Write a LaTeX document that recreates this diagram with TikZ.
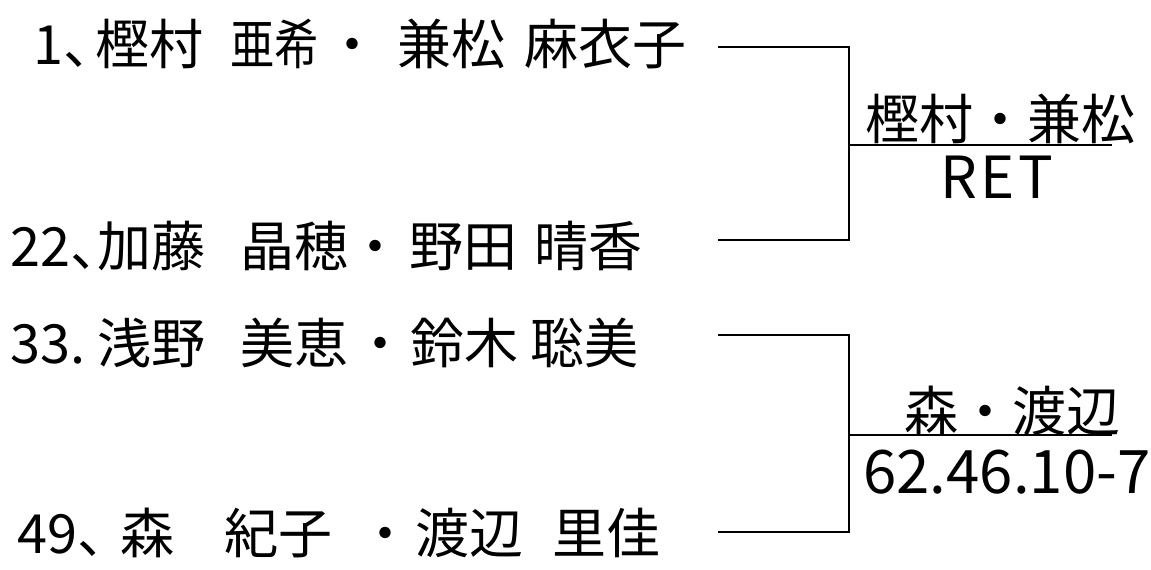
\documentclass[tikz,border=0pt]{standalone}
\usepackage{fontspec}
\setmainfont{Noto Sans CJK JP}
\newfontfamily\wide[LetterSpace=6]{Noto Sans CJK JP}
% place a piece of text at an absolute offset from the row's west edge
\newcommand{\posat}[2]{\makebox[0pt][l]{\hspace*{#1pt}#2}}
\begin{document}
\begin{tikzpicture}[x=1pt,y=-1pt,
  entry/.style={anchor=west,inner sep=0pt,font=\fontsize{54}{58}\selectfont},
  winner/.style={anchor=south,inner sep=1pt,font=\fontsize{54}{58}\selectfont},
  score/.style={anchor=north,inner sep=1pt,font=\fontsize{60}{64}\selectfont},
  line/.style={line width=1.6pt,black}]
\useasboundingbox[fill=white] (0,0) rectangle (1151,570);
% entries
\node[entry] (p1) at (0,44) {\posat{33}{1、}\posat{95}{樫村}\posat{230}{\scalebox{0.82}[1]{亜希}}\posat{325}{・}\posat{397}{兼松}\posat{524}{麻衣子}\hspace*{690pt}};
\node[entry] (p2) at (0,246) {\posat{10}{22、}\posat{97}{加藤}\posat{240}{晶穂}\posat{348}{・}\posat{409}{野田}\posat{534}{晴香}\hspace*{690pt}};
\node[entry] (p3) at (0,343) {\posat{10}{33.}\posat{97}{浅野}\posat{240}{美恵}\posat{353}{・}\posat{410}{鈴木}\posat{530}{聡美}\hspace*{690pt}};
\node[entry] (p4) at (0,533) {\posat{17}{49、}\posat{120}{森}\posat{224}{紀子}\posat{358}{・}\posat{415}{渡辺}\posat{552}{里佳}\hspace*{690pt}};
% bracket coordinates
\coordinate (a1) at (718,47);
\coordinate (b1) at (718,240);
\coordinate (m1) at (849,145);
\coordinate (e1) at (1112,145);
\coordinate (a2) at (718,335);
\coordinate (b2) at (718,532);
\coordinate (m2) at (849,435);
\coordinate (e2) at (1112,435);
\draw[line] (a1) -| (m1) |- (b1);
\draw[line] (m1) -- (e1);
\draw[line] (a2) -| (m2) |- (b2);
\draw[line] (m2) -- (e2);
% winners
\node[winner] (w1) at (1000,145) {樫村・兼松};
\node[score,font=\wide\fontsize{58}{62}\selectfont] (s1) at (997,155) {RET};
\node[winner] (w2) at (1012,437) {森・渡辺};
\node[score] (s2) at (1007,449) {62.46.10-7};
\end{tikzpicture}
\end{document}
